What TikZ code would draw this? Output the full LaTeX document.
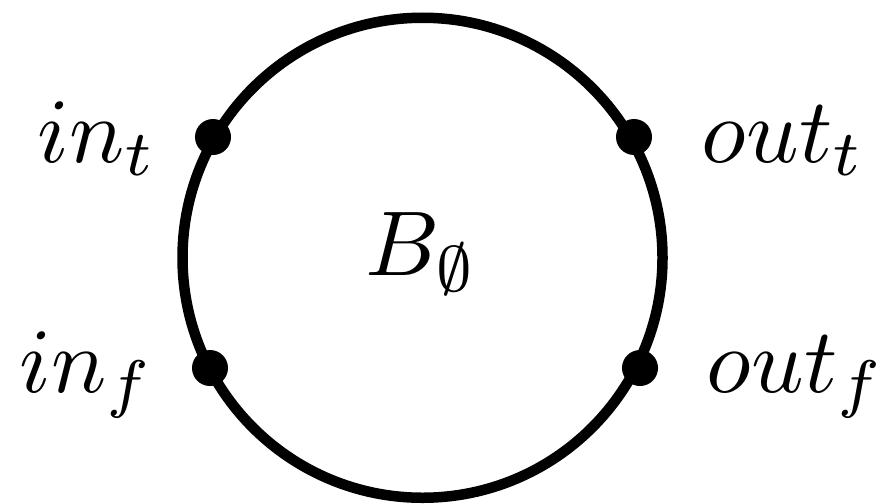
\documentclass[tikz,border=0pt]{standalone}
\begin{document}
\begin{tikzpicture}[x=1pt,y=-1pt,
  ring/.style={line width=10.5pt,draw=black},
  port/.style={circle,fill=black,inner sep=0pt,minimum size=36pt},
  lbl/.style={inner sep=0pt,anchor=base west,scale=9.2}]
\useasboundingbox (0,0) rectangle (882,503);
\node[circle,ring,minimum size=480pt,inner sep=0pt] (ring) at (422.5,257.75) {};
\node[port] (it) at (213,137) {};
\node[port] (ot) at (634,137) {};
\node[port] (if) at (210,368) {};
\node[port] (of) at (640,368) {};
\node[lbl] (lit) at (36,162) {$in_t$};
\node[lbl] (lot) at (700,162) {$out_t$};
\node[lbl] (lif) at (18,392) {$in_f$};
\node[lbl] (lof) at (705,392) {$out_f$};
\node[lbl] (b) at (364,275) {$B_\emptyset$};
\end{tikzpicture}
\end{document}
